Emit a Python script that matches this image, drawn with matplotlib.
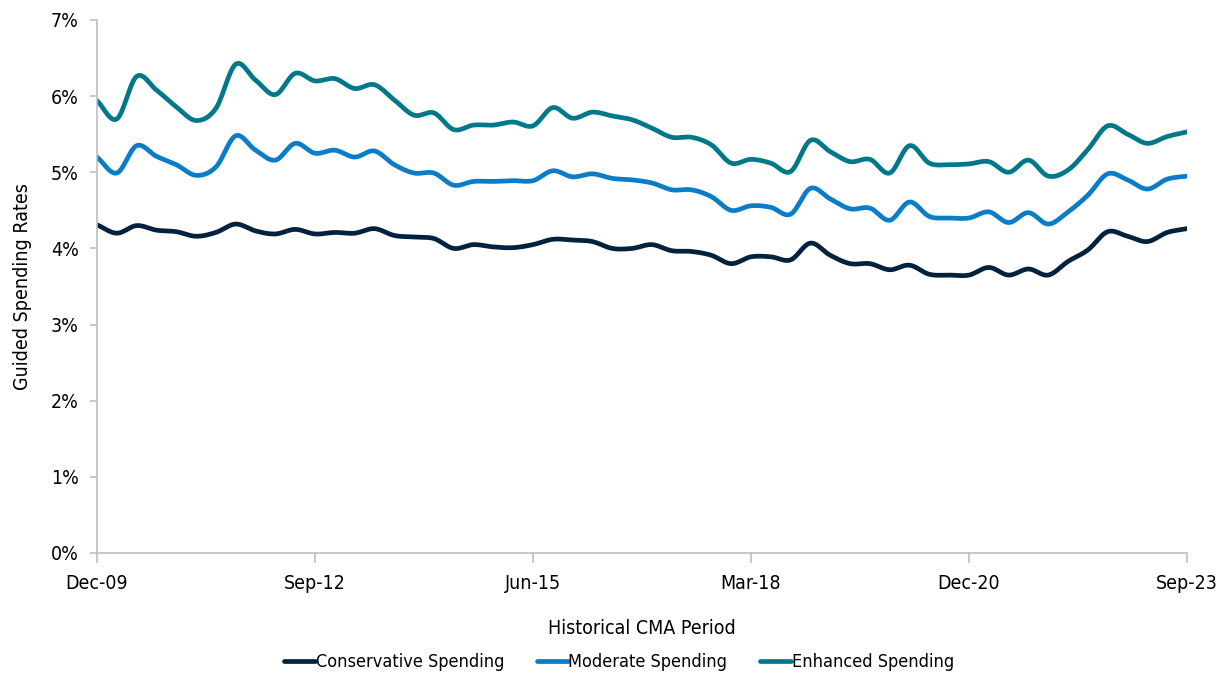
import numpy as np
import matplotlib
matplotlib.use("Agg")
import matplotlib.pyplot as plt
from matplotlib.ticker import FixedLocator, FuncFormatter

plt.rcParams['font.family'] = ['DejaVu Sans']
plt.rcParams['font.stretch'] = 'condensed'

# ---- data (quarterly, Dec-09 .. Sep-23) ----
tick_labels = ["Dec-09", "Sep-12", "Jun-15", "Mar-18", "Dec-20", "Sep-23"]
series_names = ["Conservative Spending", "Moderate Spending", "Enhanced Spending"]
series_colors = ["#00223F", "#0A7CC8", "#00788A"]

conservative = [4.31, 4.20, 4.30, 4.24, 4.22, 4.16, 4.21, 4.32, 4.23, 4.19,
                4.25, 4.19, 4.21, 4.20, 4.26, 4.17, 4.15, 4.13, 4.00, 4.05,
                4.02, 4.01, 4.05, 4.12, 4.11, 4.09, 4.00, 4.00, 4.05, 3.97,
                3.96, 3.91, 3.80, 3.89, 3.89, 3.85, 4.07, 3.91, 3.80, 3.80,
                3.72, 3.78, 3.66, 3.65, 3.65, 3.75, 3.65, 3.73, 3.65, 3.83,
                3.98, 4.22, 4.16, 4.09, 4.21, 4.26]
moderate = [5.20, 4.99, 5.35, 5.21, 5.10, 4.96, 5.07, 5.48, 5.29, 5.16,
            5.38, 5.25, 5.29, 5.20, 5.28, 5.10, 4.99, 4.99, 4.83, 4.88,
            4.88, 4.89, 4.89, 5.02, 4.94, 4.98, 4.92, 4.90, 4.86, 4.77,
            4.77, 4.68, 4.50, 4.56, 4.54, 4.45, 4.79, 4.65, 4.52, 4.53,
            4.37, 4.61, 4.42, 4.40, 4.40, 4.48, 4.34, 4.47, 4.32, 4.48,
            4.70, 4.98, 4.90, 4.78, 4.91, 4.95]
enhanced = [5.94, 5.70, 6.26, 6.08, 5.86, 5.68, 5.84, 6.42, 6.21, 6.02,
            6.30, 6.20, 6.23, 6.10, 6.15, 5.95, 5.75, 5.78, 5.56, 5.62,
            5.62, 5.66, 5.61, 5.85, 5.71, 5.79, 5.74, 5.69, 5.58, 5.46,
            5.46, 5.36, 5.12, 5.17, 5.12, 5.01, 5.42, 5.27, 5.14, 5.17,
            4.99, 5.35, 5.12, 5.10, 5.11, 5.14, 5.00, 5.16, 4.95, 5.03,
            5.30, 5.61, 5.50, 5.38, 5.47, 5.53]

n = len(conservative)
x = np.arange(n)
tick_pos = [0, 11, 22, 33, 44, 55]


def smooth(xs, ys, k=12):
    """Catmull-Rom smoothing for display (like Excel smoothed lines)."""
    xs = np.asarray(xs, float)
    ys = np.asarray(ys, float)
    px = np.concatenate([[2 * xs[0] - xs[1]], xs, [2 * xs[-1] - xs[-2]]])
    py = np.concatenate([[2 * ys[0] - ys[1]], ys, [2 * ys[-1] - ys[-2]]])
    outx, outy = [], []
    t = np.linspace(0, 1, k, endpoint=False)
    for i in range(1, len(px) - 2):
        for arr, out in ((px, outx), (py, outy)):
            p0, p1, p2, p3 = arr[i - 1], arr[i], arr[i + 1], arr[i + 2]
            out.extend(0.5 * ((2 * p1) + (-p0 + p2) * t
                              + (2 * p0 - 5 * p1 + 4 * p2 - p3) * t ** 2
                              + (-p0 + 3 * p1 - 3 * p2 + p3) * t ** 3))
    outx.append(xs[-1])
    outy.append(ys[-1])
    return np.array(outx), np.array(outy)


fig = plt.figure(figsize=(12.19, 6.74), dpi=100)
ax = fig.add_axes([97 / 1219, 1 - 553 / 674, (1187 - 97) / 1219, (553 - 20) / 674])

for data, name, col in zip([conservative, moderate, enhanced], series_names, series_colors):
    sx, sy = smooth(x, data)
    ax.plot(sx, sy, color=col, lw=3.4, label=name, solid_capstyle='round')

ax.set_xlim(0, n - 1)
ax.set_ylim(0, 7)
ax.yaxis.set_major_locator(FixedLocator(range(0, 8)))
ax.yaxis.set_major_formatter(FuncFormatter(lambda v, p: f"{v:.0f}%"))
ax.set_xticks(tick_pos)
ax.set_xticklabels(tick_labels)

for s in ['top', 'right']:
    ax.spines[s].set_visible(False)
for s in ['left', 'bottom']:
    ax.spines[s].set_color('#BFBFBF')
    ax.spines[s].set_linewidth(1.2)
ax.tick_params(axis='y', length=5, color='#BFBFBF', width=1.2, labelsize=14,
               labelcolor='#000000', pad=8)
ax.tick_params(axis='x', length=7, color='#BFBFBF', width=1.2, labelsize=14,
               labelcolor='#000000', pad=8)

ax.set_xlabel("Historical CMA Period", fontsize=14, labelpad=19)
ax.set_ylabel("Guided Spending Rates", fontsize=14, labelpad=14)

handles, labels = ax.get_legend_handles_labels()
fig.legend(handles, labels, loc='center', bbox_to_anchor=(619 / 1219, 1 - 662 / 674),
           ncol=3, frameon=False, fontsize=13, handlelength=1.7, handletextpad=0.05,
           columnspacing=1.8, borderaxespad=0, borderpad=0)

fig.savefig("out.png", dpi=100)
